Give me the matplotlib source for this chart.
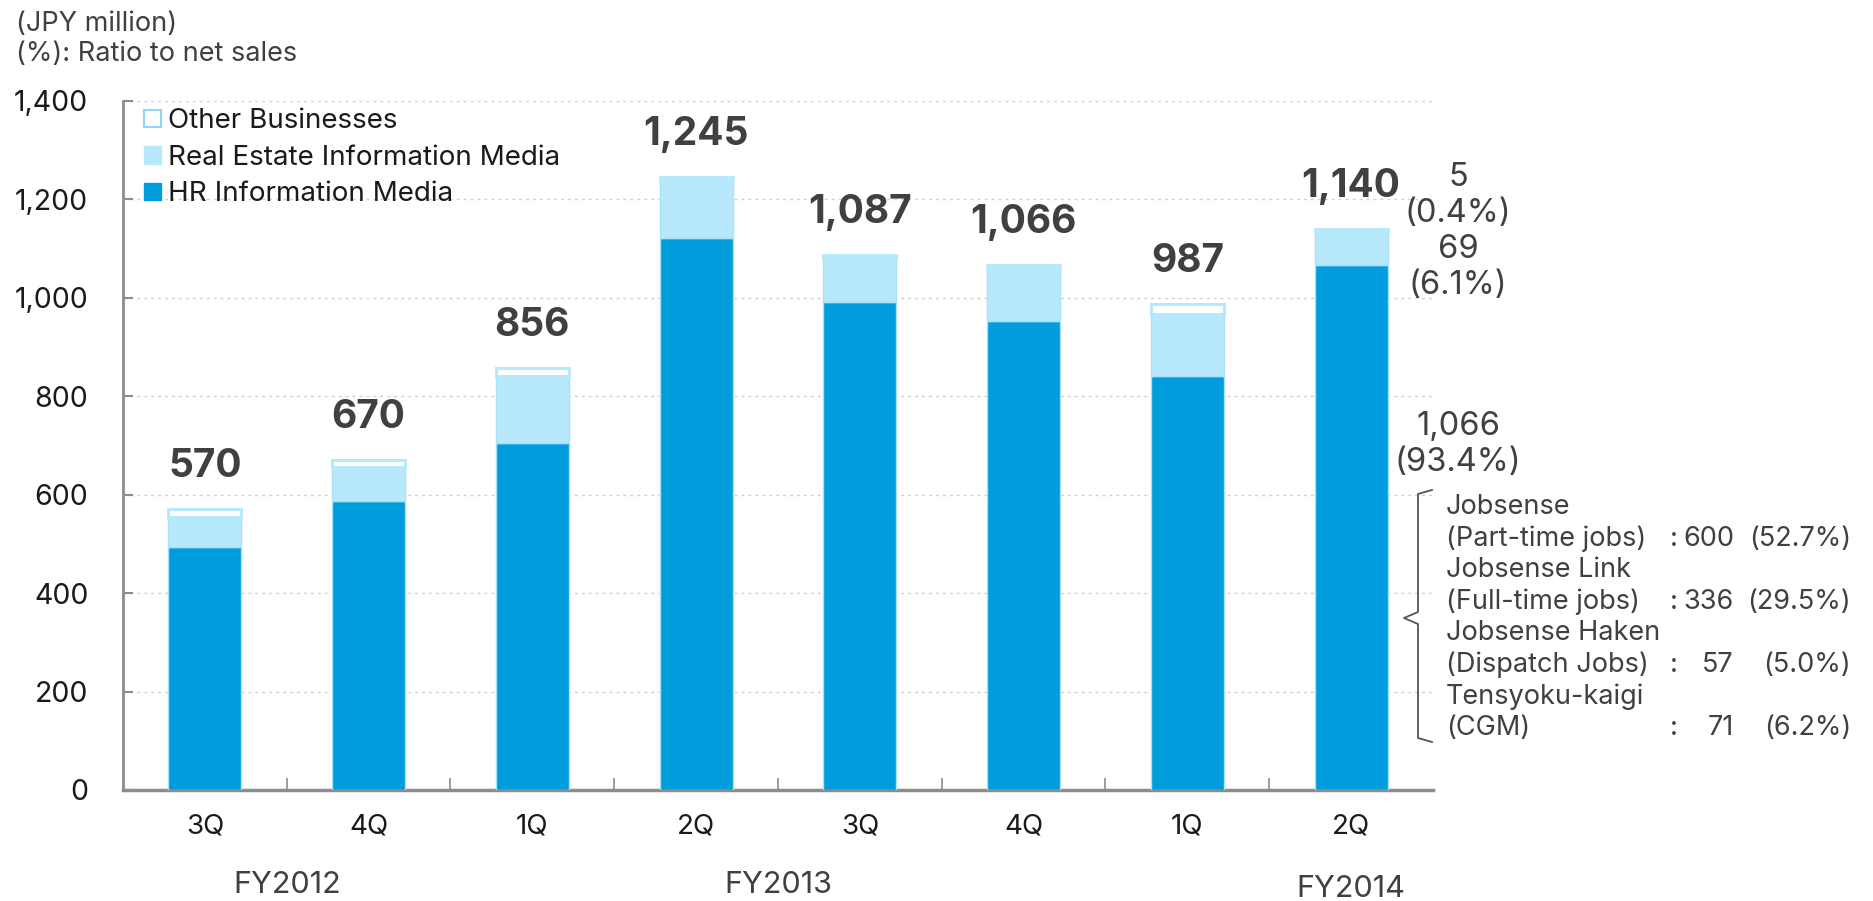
"""Quarterly segment sales, stacked bars with breakdown for the latest quarter."""

import matplotlib

matplotlib.use("Agg")
import matplotlib.pyplot as plt
import numpy as np
from matplotlib.lines import Line2D
from matplotlib.patches import Patch

plt.rcParams["font.family"] = ["Inter", "DejaVu Sans"]

quarters = ["3Q", "4Q", "1Q", "2Q", "3Q", "4Q", "1Q", "2Q"]
fiscal_years = ["FY2012", "FY2013", "FY2014"]
fy_centers = [0.5, 3.5, 7.0]

hr_media = [493, 587, 705, 1121, 990, 952, 841, 1066]
real_estate = [61, 68, 136, 118, 91, 108, 126, 69]
other_biz = [16, 15, 15, 6, 6, 6, 20, 5]

last_pct = [93.4, 6.1, 0.4]  # HR, real estate, other for the latest quarter

breakdown_names = ["Jobsense", "Jobsense Link", "Jobsense Haken", "Tensyoku-kaigi"]
breakdown_sub = ["(Part-time jobs)", "(Full-time jobs)", "(Dispatch Jobs)", "(CGM)"]
breakdown_vals = [600, 336, 57, 71]
breakdown_pct = [52.7, 29.5, 5.0, 6.2]

yticks = [0, 200, 400, 600, 800, 1000, 1200, 1400]

HR_BLUE = "#009DDC"
RE_BLUE = "#B8E8FC"
EDGE = "#A9E1F8"
DARK = "#404040"
INK = "#1a1a1a"
AXIS_GRAY = "#8c8c8c"

W, H = 1874, 901
fig = plt.figure(figsize=(W / 100, H / 100), dpi=100)
ax = fig.add_axes([123 / W, 1 - 790 / H, (1433 - 123) / W, (790 - 100.5) / H])

x = np.arange(len(quarters))
hr = np.array(hr_media)
re = np.array(real_estate)
ot = np.array(other_biz)
totals = hr + re + ot
bw = 0.446

ax.bar(x, hr, bw, color=HR_BLUE, edgecolor=EDGE, linewidth=1.0, zorder=3)
ax.bar(x, re, bw, bottom=hr, color=RE_BLUE, edgecolor=EDGE, linewidth=1.0, zorder=3)
ax.bar(x, ot, bw, bottom=hr + re, color="white", edgecolor=RE_BLUE, linewidth=2.2, zorder=3)

for xi, t in zip(x, totals):
    ax.annotate(f"{t:,}", (xi, t), xytext=(0, 23), textcoords="offset points",
                ha="center", va="baseline", fontsize=28, fontweight="bold", color=DARK)

ax.set_xlim(-0.5, len(quarters) - 0.5)
ax.set_ylim(0, 1400)
ax.set_yticks(yticks)
ax.set_yticklabels([f"{v:,}" for v in yticks], fontsize=20.5, color=INK)
ax.set_xticks(x)
ax.set_xticklabels(quarters, fontsize=20, color=INK)
ax.set_xticks(np.arange(0.5, len(quarters) - 0.5), minor=True)
ax.tick_params(axis="x", which="major", length=0, pad=17)
ax.tick_params(axis="x", which="minor", direction="in", length=9, width=1.2, color=AXIS_GRAY)
ax.tick_params(axis="y", direction="in", length=7, width=1.5, color=AXIS_GRAY, pad=25)

for s in ("top", "right"):
    ax.spines[s].set_visible(False)
ax.spines["left"].set_color(AXIS_GRAY)
ax.spines["left"].set_linewidth(2.0)
ax.spines["bottom"].set_color(AXIS_GRAY)
ax.spines["bottom"].set_linewidth(2.5)
ax.yaxis.grid(True, linestyle=(0, (2, 3)), color="#cfcfcf", linewidth=1.0, zorder=0)
ax.set_axisbelow(True)

for name, cx in zip(fiscal_years, fy_centers):
    dy = -0.143 if name == "FY2014" else -0.138
    ax.text(cx, dy, name, transform=ax.get_xaxis_transform(), ha="center", va="center",
            fontsize=22, color=DARK)

handles = [
    Patch(facecolor="white", edgecolor="#8fd7f5", linewidth=1.5, label="Other Businesses"),
    Patch(facecolor=RE_BLUE, edgecolor=RE_BLUE, label="Real Estate Information Media"),
    Patch(facecolor=HR_BLUE, edgecolor=HR_BLUE, label="HR Information Media"),
]
leg = fig.legend(handles=handles, loc="upper left", bbox_to_anchor=(133 / W, 1 - 97 / H),
                 frameon=False, fontsize=20, handlelength=0.6, handleheight=0.6,
                 handletextpad=0.25, labelspacing=0.38, borderaxespad=0)
for t in leg.get_texts():
    t.set_color(INK)

fig.text(16 / W, 1 - 24 / H, "(JPY million)", fontsize=19.5, color=DARK, va="center")
fig.text(16 / W, 1 - 54 / H, "(%): Ratio to net sales", fontsize=19.5, color=DARK, va="center")

# segment values for the latest quarter, to the right of its bar
seg_vals = [hr[-1], re[-1], ot[-1]]
seg_y = [(427, 462), (250, 286), (177, 213)]
for v, p, (y1, y2) in zip(seg_vals, last_pct, seg_y):
    fig.text(1458 / W, 1 - y1 / H, f"{v:,}", fontsize=23.5, color=DARK, ha="center", va="center")
    fig.text(1458 / W, 1 - y2 / H, f"({p:.1f}%)", fontsize=23.5, color=DARK, ha="center", va="center")

# breakdown of HR Information Media
line_y = 507
step = 31.6
for name, sub, v, p in zip(breakdown_names, breakdown_sub, breakdown_vals, breakdown_pct):
    fig.text(1446 / W, 1 - line_y / H, name, fontsize=19.5, color=DARK, va="center")
    y2 = 1 - (line_y + step) / H
    fig.text(1446 / W, y2, sub, fontsize=19.5, color=DARK, va="center")
    fig.text(1674 / W, y2, ":", fontsize=19.5, color=DARK, va="center", ha="center")
    fig.text(1734 / W, y2, f"{v}", fontsize=19.5, color=DARK, va="center", ha="right")
    fig.text(1851 / W, y2, f"({p:.1f}%)", fontsize=19.5, color=DARK, va="center", ha="right")
    line_y += 2 * step

bx = [1432, 1418, 1418, 1404, 1418, 1418, 1432]
by = [490, 494, 612, 618, 624, 738, 742]
fig.add_artist(Line2D([v / W for v in bx], [1 - v / H for v in by], color="#555555",
                      linewidth=1.3, transform=fig.transFigure))

fig.savefig("out.png", dpi=100)
